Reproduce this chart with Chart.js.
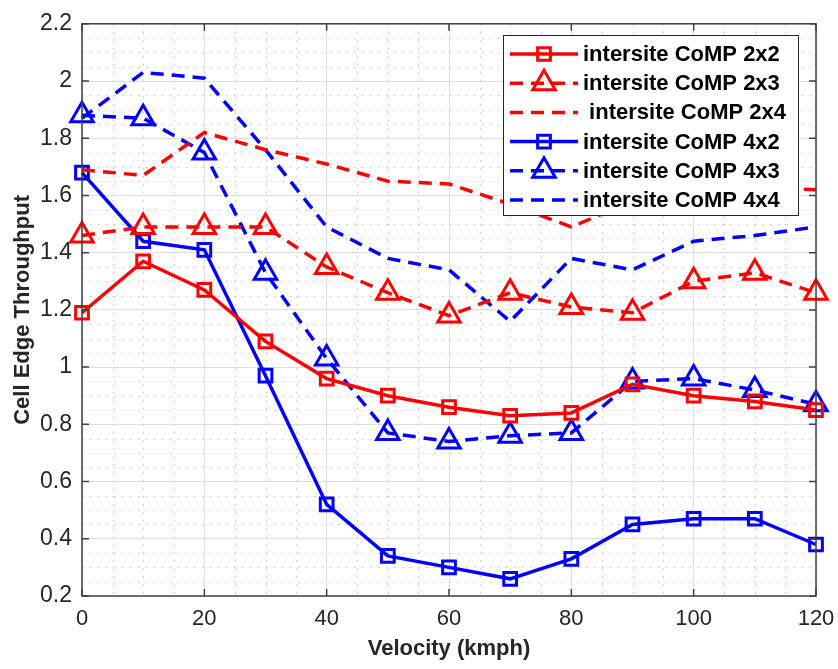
<!DOCTYPE html>
<html>
<head>
<meta charset="utf-8">
<title>Cell Edge Throughput vs Velocity</title>
<script src="https://cdn.jsdelivr.net/npm/chart.js@4/dist/chart.umd.min.js"></script>
<style>
  html, body { margin: 0; padding: 0; background: #ffffff; }
  canvas { display: block; }
</style>
</head>
<body>
<canvas id="chart" width="838" height="669"></canvas>
<script>
// Velocity samples (kmph)
const velocity = [0, 10, 20, 30, 40, 50, 60, 70, 80, 90, 100, 110, 120];

// Cell edge throughput per scheme
const comp2x2 = [1.19, 1.37, 1.27, 1.09, 0.96, 0.90, 0.86, 0.83, 0.84, 0.94, 0.90, 0.88, 0.85];
const comp2x3 = [1.46, 1.49, 1.49, 1.49, 1.35, 1.26, 1.18, 1.26, 1.21, 1.19, 1.30, 1.33, 1.26];
const comp2x4 = [1.69, 1.67, 1.82, 1.76, 1.71, 1.65, 1.64, 1.57, 1.49, 1.58, 1.62, 1.63, 1.62];
const comp4x2 = [1.68, 1.44, 1.41, 0.97, 0.52, 0.34, 0.30, 0.26, 0.33, 0.45, 0.47, 0.47, 0.38];
const comp4x3 = [1.88, 1.87, 1.75, 1.33, 1.03, 0.77, 0.74, 0.76, 0.77, 0.95, 0.96, 0.92, 0.87];
const comp4x4 = [1.87, 2.03, 2.01, 1.76, 1.49, 1.38, 1.34, 1.16, 1.38, 1.34, 1.44, 1.46, 1.49];

// Axis ranges and tick steps
const xTicks = { min: 0, max: 120, major: 20, minor: 5 };
const yTicks = { min: 0.2, max: 2.2, major: 0.2, minor: 0.05 };

const seriesLabels = [
  'intersite CoMP 2x2',
  'intersite CoMP 2x3',
  ' intersite CoMP 2x4',
  'intersite CoMP 4x2',
  'intersite CoMP 4x3',
  'intersite CoMP 4x4'
];

const RED = '#ff0000';
const BLUE = '#0000ff';
const DASH = [13, 8];
const FONT = "'Liberation Sans', Arial, Helvetica, sans-serif";
const TEXT = '#262626';

function points(values) {
  return velocity.map((v, i) => ({ x: v, y: values[i] }));
}

function series(label, values, color, dashed, marker) {
  return {
    label: label,
    data: points(values),
    borderColor: color,
    backgroundColor: 'rgba(0,0,0,0)',
    borderWidth: 3.5,
    borderDash: dashed ? DASH : [],
    borderCapStyle: 'butt',
    tension: 0,
    clip: false,
    pointStyle: marker || 'circle',
    pointRadius: marker === 'rect' ? 9 : (marker === 'triangle' ? 13 : 0),
    pointHoverRadius: 0,
    pointBorderWidth: 3,
    pointBorderColor: color,
    pointBackgroundColor: 'rgba(0,0,0,0)'
  };
}

const datasets = [
  series(seriesLabels[0], comp2x2, RED, false, 'rect'),
  series(seriesLabels[1], comp2x3, RED, true, 'triangle'),
  series(seriesLabels[2], comp2x4, RED, true, null),
  series(seriesLabels[3], comp4x2, BLUE, false, 'rect'),
  series(seriesLabels[4], comp4x3, BLUE, true, 'triangle'),
  series(seriesLabels[5], comp4x4, BLUE, true, null)
];

// Dotted minor grid, boxed axes with inward ticks, and the boxed legend
const axesDecor = {
  id: 'axesDecor',
  beforeDatasetsDraw(chart) {
    const { ctx, chartArea: a, scales: { x, y } } = chart;
    ctx.save();
    ctx.strokeStyle = '#cfcfcf';
    ctx.lineWidth = 1;
    ctx.setLineDash([2, 6]);
    for (let v = xTicks.min + xTicks.minor; v < xTicks.max - 1e-9; v += xTicks.minor) {
      if (Math.abs(v / xTicks.major - Math.round(v / xTicks.major)) < 1e-6) continue;
      const px = Math.round(x.getPixelForValue(v)) + 0.5;
      ctx.beginPath(); ctx.moveTo(px, a.top); ctx.lineTo(px, a.bottom); ctx.stroke();
    }
    for (let i = 1; i < Math.round((yTicks.max - yTicks.min) / yTicks.minor); i++) {
      if (i % 4 === 0) continue;
      const v = yTicks.min + i * yTicks.minor;
      const py = Math.round(y.getPixelForValue(v)) + 0.5;
      ctx.beginPath(); ctx.moveTo(a.left, py); ctx.lineTo(a.right, py); ctx.stroke();
    }
    ctx.restore();
  },
  afterDatasetsDraw(chart) {
    const { ctx, chartArea: a, scales: { x, y } } = chart;
    ctx.save();
    ctx.setLineDash([]);
    ctx.strokeStyle = '#404040';
    ctx.lineWidth = 1.5;
    ctx.strokeRect(a.left, a.top, a.right - a.left, a.bottom - a.top);
    const t = 7;
    ctx.beginPath();
    x.ticks.forEach(tk => {
      const px = x.getPixelForValue(tk.value);
      ctx.moveTo(px, a.bottom); ctx.lineTo(px, a.bottom - t);
      ctx.moveTo(px, a.top); ctx.lineTo(px, a.top + t);
    });
    y.ticks.forEach(tk => {
      const py = y.getPixelForValue(tk.value);
      ctx.moveTo(a.left, py); ctx.lineTo(a.left + t, py);
      ctx.moveTo(a.right, py); ctx.lineTo(a.right - t, py);
    });
    ctx.stroke();
    ctx.restore();
  },
  afterDraw(chart) {
    const ctx = chart.ctx;
    const box = { left: 503, top: 35, right: 798, bottom: 215 };
    const rowTop = 54, rowStep = 29.2;
    const lineX0 = 510, lineX1 = 578, textX = 583;
    ctx.save();
    ctx.fillStyle = '#ffffff';
    ctx.fillRect(box.left, box.top, box.right - box.left, box.bottom - box.top);
    ctx.strokeStyle = '#262626';
    ctx.lineWidth = 1;
    ctx.setLineDash([]);
    ctx.strokeRect(box.left + 0.5, box.top + 0.5, box.right - box.left, box.bottom - box.top);
    chart.data.datasets.forEach((ds, i) => {
      const cy = rowTop + i * rowStep;
      ctx.strokeStyle = ds.borderColor;
      ctx.lineWidth = ds.borderWidth;
      ctx.lineCap = 'butt';
      ctx.setLineDash(ds.borderDash);
      ctx.beginPath(); ctx.moveTo(lineX0, cy); ctx.lineTo(lineX1, cy); ctx.stroke();
      ctx.setLineDash([]);
      if (ds.pointRadius > 0) {
        ctx.fillStyle = 'rgba(0,0,0,0)';
        ctx.strokeStyle = ds.pointBorderColor;
        ctx.lineWidth = ds.pointBorderWidth;
        Chart.helpers.drawPoint(ctx, {
          pointStyle: ds.pointStyle, radius: ds.pointRadius, rotation: 0,
          borderWidth: ds.pointBorderWidth
        }, (lineX0 + lineX1) / 2, cy);
      }
      ctx.fillStyle = '#000000';
      ctx.font = 'bold 22px ' + FONT;
      ctx.textBaseline = 'middle';
      ctx.textAlign = 'left';
      ctx.fillText(ds.label, textX, cy + 1);
    });
    ctx.restore();
  }
};

new Chart(document.getElementById('chart'), {
  type: 'line',
  data: { datasets: datasets },
  plugins: [axesDecor],
  options: {
    responsive: false,
    animation: false,
    devicePixelRatio: 1,
    layout: { padding: { top: 16, right: 22, left: 0, bottom: 0 } },
    plugins: { legend: { display: false }, tooltip: { enabled: false } },
    events: [],
    scales: {
      x: {
        type: 'linear',
        min: xTicks.min,
        max: xTicks.max,
        ticks: {
          stepSize: xTicks.major,
          color: TEXT,
          font: { family: FONT, size: 22 },
          padding: 10,
          maxRotation: 0
        },
        grid: { color: '#dedede', lineWidth: 1, drawTicks: false },
        border: { display: false },
        title: {
          display: true,
          text: 'Velocity (kmph)',
          color: TEXT,
          font: { family: FONT, size: 22, weight: 'bold' },
          padding: { top: 2, bottom: 7 }
        },
        afterFit(scale) {
          scale.height = 73;
          scale.paddingLeft = 0;
          scale.paddingRight = 0;
        }
      },
      y: {
        type: 'linear',
        min: yTicks.min,
        max: yTicks.max,
        ticks: {
          stepSize: yTicks.major,
          color: TEXT,
          font: { family: FONT, size: 23 },
          padding: 10,
          callback: v => String(+v.toFixed(1))
        },
        grid: { color: '#dedede', lineWidth: 1, drawTicks: false },
        border: { display: false },
        title: {
          display: true,
          text: 'Cell Edge Throughput',
          color: TEXT,
          font: { family: FONT, size: 22, weight: 'bold' },
          padding: { top: 10, bottom: 0 }
        },
        afterFit(scale) { scale.width = 82; }
      }
    }
  }
});
</script>
</body>
</html>
